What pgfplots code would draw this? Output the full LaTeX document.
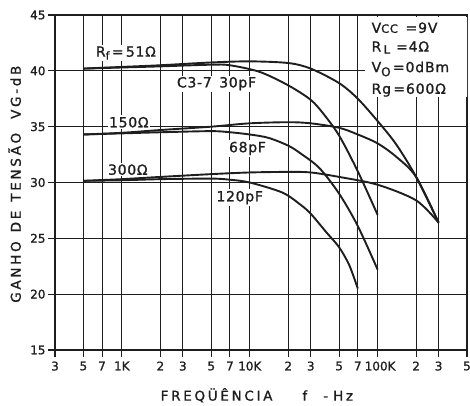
\documentclass[border=0pt]{standalone}
\usepackage{pgfplots}
\pgfplotsset{compat=1.18}
\usepackage{fontspec}
\setmainfont{DejaVu Sans}[FakeBold=1.1]
\definecolor{ink}{HTML}{1E1E1E}
\begin{document}
\begin{tikzpicture}
\useasboundingbox (-55pt,-55pt) rectangle (415pt,350pt);
\begin{axis}[
 at={(0pt,0pt)}, anchor=south west,
 scale only axis, width=412pt, height=335pt,
 xmode=log, xmin=300, xmax=500000, ymin=15, ymax=45,
 xtick={300,500,700,1000,2000,3000,5000,7000,10000,20000,30000,50000,70000,100000,200000,300000,500000},
 xticklabels={3,5,7,1K,2,3,5,7,10K,2,3,5,7,\hspace{5pt}100K,2,3,5},
 ytick={15,20,25,30,35,40,45},
 xminorticks=false, xminorgrids=false,
 grid=major,
 major grid style={ink, line width=1.1pt},
 axis line style={ink, line width=1.1pt},
 tick style={ink, line width=1.1pt},
 tick align=outside,
 major tick length=7pt,
 xtick pos=bottom, ytick pos=left,
 tick label style={font=\fontsize{12}{13}\selectfont, text=ink},
 /pgf/number format/assume math mode=true,
 xticklabel style={yshift=-1pt},
 yticklabel style={xshift=1pt},
 xlabel={\fontsize{13.5}{14}\selectfont\addfontfeature{LetterSpace=20}FREQÜÊNCIA\hspace{30pt}f\hspace{16pt}-\hspace{5pt}Hz},
 ylabel={\fontsize{13.5}{14}\selectfont\addfontfeature{LetterSpace=20}GANHO\hspace{9pt}DE\hspace{9pt}TENSÃO\hspace{14pt}VG-dB},
 xlabel style={at={(axis description cs:0.49,-0.135)}, anchor=center, text=ink},
 ylabel style={at={(axis description cs:-0.098,0.495)}, anchor=center, text=ink},
 curve/.style={ink, line width=1.9pt, smooth, tension=0.5, mark=none},
]
% Rf = 51 ohm, no C
\addplot[curve] coordinates {(500,40.2)(1000,40.35)(2000,40.5)(5000,40.75)(10000,40.85)(20000,40.7)(30000,40.2)(50000,38.9)(70000,37.5)(100000,35.5)(140000,33.4)(200000,30.5)(300000,26.4)};
% Rf = 51 ohm, 30 pF
\addplot[curve] coordinates {(500,40.2)(1000,40.3)(2000,40.4)(5000,40.55)(7000,40.5)(12000,39.9)(20000,38.7)(30000,37.4)(38000,36.1)(50000,34.2)(70000,31.0)(100000,27.1)};
% Rf = 150 ohm
\addplot[curve] coordinates {(500,34.3)(1000,34.45)(2000,34.7)(5000,35.0)(10000,35.3)(20000,35.4)(30000,35.3)(50000,34.9)(70000,34.3)(100000,33.5)(140000,32.3)(200000,30.5)(300000,26.4)};
% 68 pF
\addplot[curve] coordinates {(500,34.3)(1000,34.4)(2000,34.5)(5000,34.6)(7000,34.5)(10000,34.3)(14000,34.0)(20000,33.3)(25000,32.6)(35000,31.3)(50000,29.0)(70000,26.1)(100000,22.2)};
% Rf = 300 ohm
\addplot[curve] coordinates {(500,30.15)(1000,30.3)(2000,30.5)(5000,30.75)(10000,30.9)(20000,30.95)(30000,30.9)(50000,30.5)(100000,29.8)(200000,28.4)(300000,26.4)};
% 120 pF
\addplot[curve] coordinates {(500,30.15)(1000,30.2)(2000,30.3)(5000,30.35)(7000,30.25)(10000,30.0)(18000,29.1)(25000,28.0)(30000,27.2)(40000,25.5)(50000,24.2)(60000,22.6)(70000,20.5)};

\fill[white] (rel axis cs:0.752,0.994) rectangle (rel axis cs:1.01,0.755);
\begin{scope}[every node/.style={font=\fontsize{14}{14}\selectfont\addfontfeature{LetterSpace=6}, text=ink, anchor=west, inner sep=0pt}]
\node at (rel axis cs:0.768,0.962) {V{\fontsize{11.5}{12}\selectfont CC} \,=9V};
\node at (rel axis cs:0.768,0.903) {R\,\raisebox{-2pt}{\fontsize{11.5}{12}\selectfont L}\hspace{6pt}=4Ω};
\node at (rel axis cs:0.768,0.839) {V\raisebox{-4pt}{\fontsize{12}{12}\selectfont O}\,=0dBm};
\node at (rel axis cs:0.768,0.776) {Rg\,=600Ω};
\end{scope}
\begin{scope}[every node/.style={font=\fontsize{14}{14}\selectfont\addfontfeature{LetterSpace=5}, text=ink, fill=white, inner sep=1.5pt}]
\node at (axis cs:1075,41.6) {R\raisebox{-3pt}{\fontsize{11}{11}\selectfont f}\,=\,51Ω};
\node at (axis cs:5500,38.85) {C3-7\, 30pF};
\node at (axis cs:1134,35.4) {150Ω};
\node at (axis cs:1114,31.15) {300Ω};
\node at (axis cs:9600,33.05) {68pF};
\node at (axis cs:8350,28.65) {120pF};
\end{scope}
\end{axis}
\end{tikzpicture}
\end{document}
